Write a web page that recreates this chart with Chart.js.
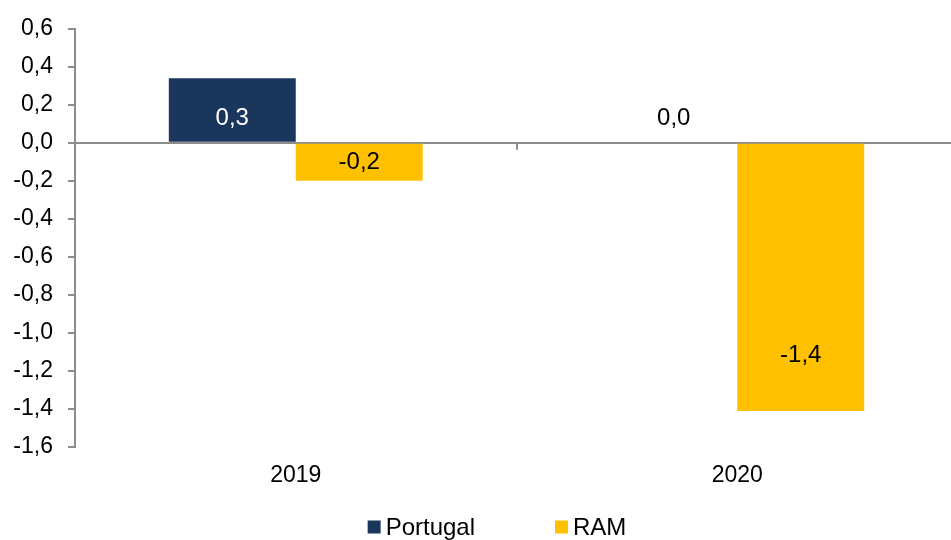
<!DOCTYPE html>
<html>
<head>
<meta charset="utf-8">
<script src="https://cdn.jsdelivr.net/npm/chart.js@4"></script>
<style>
  html, body { margin: 0; padding: 0; background: #fff; overflow: hidden; }
  #wrap { width: 958px; height: 540px; }
</style>
</head>
<body>
<div id="wrap"><canvas id="chart"></canvas></div>
<script>
// data
var years = ['2019', '2020'];
var portugal = [0.34, 0.0];
var ram = [-0.2, -1.41];
var seriesNames = ['Portugal', 'RAM'];
var seriesColors = ['#1b365d', '#ffc000'];

var yMin = -1.6, yMax = 0.6, yStep = 0.2;

var fontFamily = '"Liberation Sans", Arial, sans-serif';
var axisGray = '#8c8c8c';

function fmt(v) {
  var r = Math.round(v * 10) / 10;
  return r.toFixed(1).replace('.', ',');
}

// the -1,4 label was moved by hand in the original, kept here in value units
var labelMoved = { '1-1': -1.12 };

var barLabels = {
  id: 'barLabels',
  afterDatasetsDraw: function (chart) {
    var ctx = chart.ctx;
    var yScale = chart.scales.y;
    var zeroY = yScale.getPixelForValue(0);
    ctx.save();
    ctx.font = '24px ' + fontFamily;
    ctx.textAlign = 'center';
    ctx.textBaseline = 'middle';
    chart.data.datasets.forEach(function (ds, di) {
      var meta = chart.getDatasetMeta(di);
      meta.data.forEach(function (bar, i) {
        var v = ds.data[i];
        var y;
        var key = di + '-' + i;
        if (labelMoved[key] !== undefined) {
          y = yScale.getPixelForValue(labelMoved[key]);
        } else if (v >= 0) {
          y = zeroY - 24;
        } else {
          y = zeroY + 20;
        }
        ctx.fillStyle = (di === 0 && v > 0) ? '#ffffff' : '#000000';
        ctx.fillText(fmt(v), bar.x, y);
      });
    });
    ctx.restore();
  }
};

// small marks on the zero line between categories, plus the legend
var extras = {
  id: 'extras',
  afterDraw: function (chart) {
    var ctx = chart.ctx;
    var zeroY = chart.scales.y.getPixelForValue(0);
    var area = chart.chartArea;
    var step = (area.right - area.left) / years.length;

    ctx.save();
    ctx.strokeStyle = axisGray;
    ctx.lineWidth = 2;
    for (var k = 1; k <= years.length; k++) {
      var bx = Math.round(area.left + step * k);
      ctx.beginPath();
      ctx.moveTo(bx, zeroY);
      ctx.lineTo(bx, zeroY + 7);
      ctx.stroke();
    }

    // legend
    ctx.font = '24px ' + fontFamily;
    ctx.textBaseline = 'middle';
    ctx.textAlign = 'left';
    var box = 13, boxGap = 5, itemGap = 80;
    var widths = seriesNames.map(function (n) { return box + boxGap + ctx.measureText(n).width; });
    var total = widths[0] + itemGap + widths[1];
    var lx = chart.width / 2 + 18 - total / 2;
    var ly = 527;
    seriesNames.forEach(function (n, i) {
      ctx.fillStyle = seriesColors[i];
      ctx.fillRect(lx, ly - box / 2, box, box);
      ctx.fillStyle = '#000000';
      ctx.fillText(n, lx + box + boxGap, ly + 1);
      lx += widths[i] + itemGap;
    });
    ctx.restore();
  }
};

new Chart(document.getElementById('chart'), {
  type: 'bar',
  data: {
    labels: years,
    datasets: [
      { label: seriesNames[0], data: portugal, backgroundColor: seriesColors[0] },
      { label: seriesNames[1], data: ram, backgroundColor: seriesColors[1] }
    ]
  },
  options: {
    responsive: true,
    maintainAspectRatio: false,
    animation: false,
    layout: { padding: { top: 26, right: 0, bottom: 0, left: 0 } },
    datasets: {
      bar: { barPercentage: 1, categoryPercentage: 0.575 }
    },
    plugins: {
      legend: { display: false },
      tooltip: { enabled: false }
    },
    scales: {
      x: {
        grid: { display: false, drawTicks: false },
        border: { display: false },
        ticks: {
          color: '#000000',
          padding: 15,
          font: { family: fontFamily, size: 23 }
        },
        afterFit: function (s) { s.height = 93; }
      },
      y: {
        min: yMin,
        max: yMax,
        ticks: {
          stepSize: yStep,
          color: '#000000',
          padding: 15,
          font: { family: fontFamily, size: 23 },
          callback: function (v) { return fmt(v); }
        },
        grid: {
          color: function (c) { return Math.abs(c.tick.value) < 1e-9 ? axisGray : 'rgba(0,0,0,0)'; },
          lineWidth: 2,
          tickLength: 7,
          tickColor: axisGray
        },
        border: { display: true, color: axisGray, width: 2 },
        afterFit: function (s) { s.width = 75; }
      }
    }
  },
  plugins: [barLabels, extras]
});
</script>
</body>
</html>
